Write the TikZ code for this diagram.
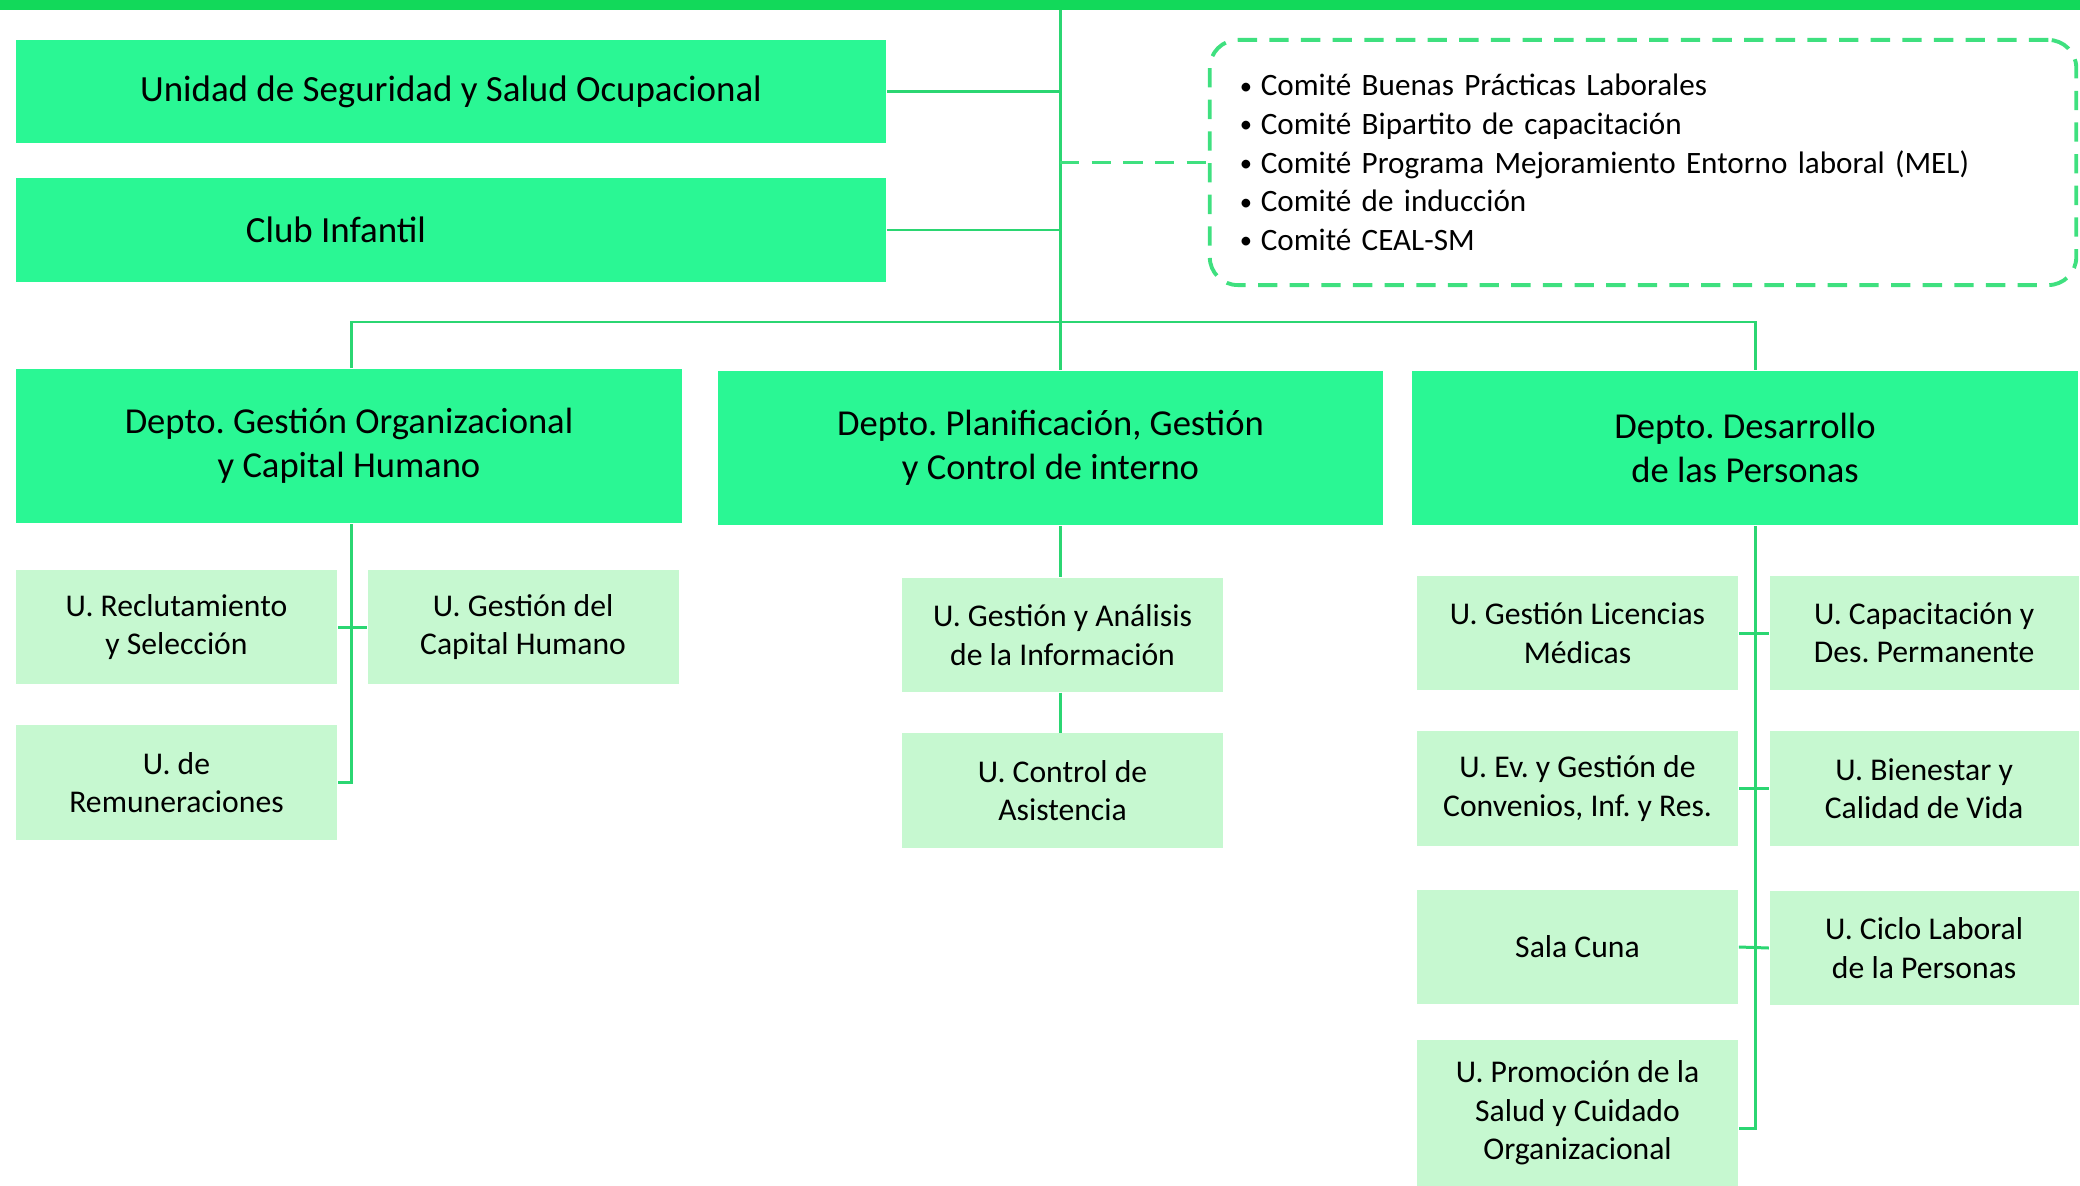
\documentclass[tikz,border=0pt]{standalone}
\usepackage{fontspec}
\setmainfont{Carlito}
\usepackage{xcolor}
\usepackage{tikz}
\usetikzlibrary{positioning}
\frenchspacing
\definecolor{barGreen}{HTML}{12D95A}
\definecolor{deptGreen}{HTML}{2AF794}
\definecolor{unitGreen}{HTML}{C6F8D0}
\definecolor{lineGreen}{HTML}{2BD672}
\definecolor{dashGreen}{HTML}{3FE07F}
\newcommand{\cbul}{\makebox[.21cm][l]{\raisebox{.5pt}{\fontsize{7}{7}\selectfont\textbullet}}}
\tikzset{top node/.style={rectangle,fill=deptGreen,minimum width=8.7cm,minimum height=1.03cm,inner sep=0pt,font=\fontsize{10.5}{13}\selectfont},
	dept node/.style={rectangle,fill=deptGreen,minimum width=6.65cm,minimum height=1.54cm,inner sep=0pt,align=center,font=\fontsize{10.4}{12.5}\selectfont},
	unit node/.style={rectangle,fill=unitGreen,minimum width=3.21cm,minimum height=1.14cm,inner sep=0pt,align=center,font=\fontsize{9}{10.9}\selectfont},
	comite node/.style={draw=dashGreen,dash pattern=on 5.5pt off 3.5pt,line width=1.1pt,rounded corners=.28cm,minimum width=8.66cm,minimum height=2.45cm,text width=8.06cm,inner xsep=.3cm,align=left,font=\fontsize{8.85}{11}\selectfont},
	link/.style={draw=lineGreen,line width=.85pt},}

\begin{document}
\begin{tikzpicture}[x=0.01cm,y=-0.01cm]
	\useasboundingbox (0,0) rectangle (2080,1185);
	\fill[barGreen] (0,0) rectangle (2080,10);
	\coordinate (top) at (1060,10);
	\coordinate (b1) at (351,322);
	\coordinate (b3) at (1755,322);

	% direccion
	\node[top node] (1) at (451,91.5) {Unidad de Seguridad y Salud Ocupacional};
	\node[top node] (2) at (451,230) {Club Infantil\kern2.3cm};
	\node[comite node] (3) at (1643,162.5) {\cbul Comité Buenas Prácticas Laborales\\
		\cbul Comité Bipartito de capacitación\\
		\cbul Comité Programa Mejoramiento Entorno laboral (MEL)\\
		\cbul Comité de inducción\\
		\cbul Comité CEAL-SM};

	% departamentos
	\node[dept node] (d1) at (349,446) {Depto. Gestión Organizacional\\y Capital Humano};
	\node[dept node] (d2) at (1050.5,448) {Depto. Planificación, Gestión\\y Control de interno};
	\node[dept node] (d3) at (1745,448) {Depto. Desarrollo\\de las Personas};

	% unidades
	\node[unit node] (u1) at (176.5,627) {U. Reclutamiento\\y Selección};
	\node[unit node,minimum width=3.11cm] (u2) [right = .29cm of u1] {U. Gestión del\\Capital Humano};
	\node[unit node] (u3) [below = .4cm of u1] {U. de\\Remuneraciones};

	\node[unit node] (u4) at (1062.5,635) {U. Gestión y Análisis\\de la Información};
	\node[unit node] (u5) [below = .4cm of u4] {U. Control de\\Asistencia};

	\node[unit node] (u6) at (1577.5,633) {U. Gestión Licencias\\Médicas};
	\node[unit node,minimum width=3.09cm] (u7) [right = .3cm of u6] {U. Capacitación y\\Des. Permanente};
	\node[unit node] (u8) [below = .4cm of u6] {U. Ev. y Gestión de\\Convenios, Inf. y Res.};
	\node[unit node,minimum width=3.09cm] (u9) [below = .4cm of u7] {U. Bienestar y\\Calidad de Vida};
	\node[unit node] (u10) [below = .43cm of u8] {Sala Cuna};
	\node[unit node,minimum width=3.09cm] (u11) [below = .44cm of u9] {U. Ciclo Laboral\\de la Personas};
	\node[unit node,minimum height=1.45cm] (u12) [below = .35cm of u10] {U. Promoción de la\\Salud y Cuidado\\Organizacional};
	\coordinate (e12) at ([yshift=-.15cm]u12.east);

	\path[link] (top) -- (top |- d2.north);
	\path[link] (1.east) -- (1.east -| top);
	\path[link] (2.east) -- (2.east -| top);
	\path[link,line width=1.1pt,dash pattern=on 5.5pt off 3.5pt,draw=dashGreen] (3.west -| top) -- (3.west);
	\path[link] (b1 |- d1.north) -- (b1) -- (b3) -- (b3 |- d3.north);

	\path[link] (b1 |- d1.south) -- (b1 |- u3.east) -- (u3.east);
	\path[link] (u1.east) -- (u1.east -| u2.west);

	\path[link] (top |- d2.south) -- (top |- u4.north);
	\path[link] (top |- u4.south) -- (top |- u5.north);

	\path[link] (b3 |- d3.south) -- (b3 |- e12) -- (e12);
	\path[link] (u6.east) -- (u7.west);
	\path[link] (u8.east) -- (u9.west);
	\path[link] (u10.east) -- (u11.west);
\end{tikzpicture}
\end{document}
